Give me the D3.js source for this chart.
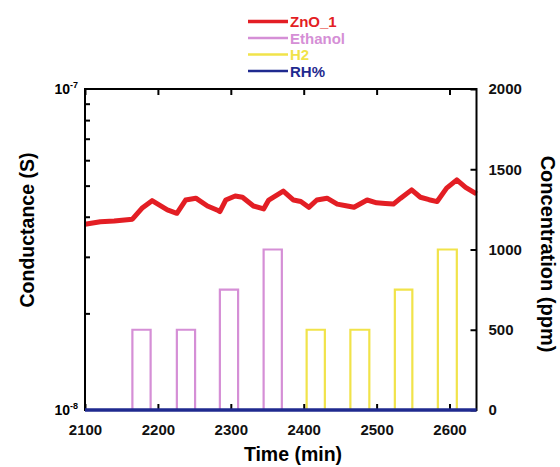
<!DOCTYPE html>
<html>
<head>
<meta charset="utf-8">
<script src="https://cdn.jsdelivr.net/npm/d3@7"></script>
<style>
    body { margin: 0; background: #fff; }
    text { font-family: "Liberation Sans", Arial, sans-serif; font-weight: bold; }
</style>
</head>
<body>
<script>
// ZnO_1 conductance trace (time in min, conductance in S)
const znoTime = [2100, 2121, 2140, 2165, 2178, 2192, 2213, 2226, 2238, 2252, 2268, 2281, 2285, 2293, 2306, 2316, 2331, 2345, 2352, 2372, 2386, 2396, 2407, 2418, 2432, 2446, 2458, 2469, 2487, 2500, 2512, 2523, 2533, 2548, 2560, 2572, 2583, 2596, 2610, 2622, 2637];
const znoValue = [3.79e-8, 3.86e-8, 3.88e-8, 3.93e-8, 4.25e-8, 4.49e-8, 4.2e-8, 4.1e-8, 4.51e-8, 4.57e-8, 4.32e-8, 4.2e-8, 4.15e-8, 4.51e-8, 4.64e-8, 4.6e-8, 4.32e-8, 4.23e-8, 4.51e-8, 4.81e-8, 4.51e-8, 4.46e-8, 4.28e-8, 4.51e-8, 4.57e-8, 4.38e-8, 4.33e-8, 4.28e-8, 4.51e-8, 4.42e-8, 4.4e-8, 4.38e-8, 4.57e-8, 4.85e-8, 4.6e-8, 4.52e-8, 4.46e-8, 4.91e-8, 5.21e-8, 4.94e-8, 4.71e-8];

// gas pulses: start time, end time, concentration (ppm)
const ethanolStart = [2165, 2226, 2285, 2345];
const ethanolEnd = [2190, 2251, 2310, 2370];
const ethanolPpm = [500, 500, 750, 1000];
const h2Start = [2404, 2464, 2525, 2584];
const h2End = [2429, 2490, 2549, 2610];
const h2Ppm = [500, 500, 750, 1000];

// relative humidity trace, flat at zero
const rhTime = [2100, 2637];
const rhValue = [0, 0];

const xTicks = [2100, 2200, 2300, 2400, 2500, 2600];
const rightTicks = [0, 500, 1000, 1500, 2000];
const legendNames = ["ZnO_1", "Ethanol", "H2", "RH%"];
const legendColors = ["#e31e24", "#d58fd6", "#f1e34a", "#1f2a8f"];

const width = 560, height = 467;
const margin = { top: 89, right: 83.5, bottom: 57, left: 85 };
const innerW = width - margin.left - margin.right;
const innerH = height - margin.top - margin.bottom;

const svg = d3.select("body").append("svg").attr("width", width).attr("height", height);

const x = d3.scaleLinear().domain([2100, 2637]).range([margin.left, margin.left + innerW]);
const yLeft = d3.scaleLog().domain([1e-8, 1e-7]).range([margin.top + innerH, margin.top]);
const yRight = d3.scaleLinear().domain([0, 2000]).range([margin.top + innerH, margin.top]);

// turn pulse lists into step series starting and ending at 0
function pulseSeries(starts, ends, vals) {
    const pts = [];
    starts.forEach((s, i) => {
        pts.push([s, 0], [s, vals[i]], [ends[i], vals[i]], [ends[i], 0]);
    });
    return pts;
}

const lineRight = d3.line().x(d => x(d[0])).y(d => yRight(d[1]));

const plot = svg.append("g");

plot.append("path")
    .datum(pulseSeries(ethanolStart, ethanolEnd, ethanolPpm))
    .attr("d", lineRight)
    .attr("fill", "none")
    .attr("stroke", legendColors[1])
    .attr("stroke-width", 2.2);

plot.append("path")
    .datum(pulseSeries(h2Start, h2End, h2Ppm))
    .attr("d", lineRight)
    .attr("fill", "none")
    .attr("stroke", legendColors[2])
    .attr("stroke-width", 2.2);

plot.append("path")
    .datum(znoTime.map((t, i) => [t, znoValue[i]]))
    .attr("d", d3.line().x(d => x(d[0])).y(d => yLeft(d[1])))
    .attr("fill", "none")
    .attr("stroke", legendColors[0])
    .attr("stroke-width", 5)
    .attr("stroke-linejoin", "round");

// axes with inward ticks
const axisBottomG = svg.append("g")
    .attr("transform", `translate(0,${margin.top + innerH})`)
    .call(d3.axisBottom(x).tickValues(xTicks).tickSize(-6).tickPadding(14).tickFormat(d3.format("d")));

const axisTopG = svg.append("g")
    .attr("transform", `translate(0,${margin.top})`)
    .call(d3.axisTop(x).tickValues(xTicks).tickSize(-6).tickFormat(""));

const minorVals = d3.range(2, 10).map(k => k * 1e-8);
const axisLeftG = svg.append("g")
    .attr("transform", `translate(${margin.left},0)`)
    .call(d3.axisLeft(yLeft).tickValues(minorVals).tickSize(-5).tickFormat(""));

const axisRightG = svg.append("g")
    .attr("transform", `translate(${margin.left + innerW},0)`)
    .call(d3.axisRight(yRight).tickValues(rightTicks).tickSize(-6).tickPadding(12).tickFormat(d3.format("d")));

[axisBottomG, axisTopG, axisLeftG, axisRightG].forEach(g => {
    g.select(".domain").remove();
    g.selectAll(".tick line").attr("stroke", "#000").attr("stroke-width", 2);
    g.selectAll(".tick text").attr("fill", "#111").style("font-size", "15px");
});

// frame
svg.append("rect")
    .attr("x", margin.left).attr("y", margin.top)
    .attr("width", innerW).attr("height", innerH)
    .attr("fill", "none").attr("stroke", "#000").attr("stroke-width", 2);

// RH line sits on the bottom frame edge
svg.append("path")
    .datum(rhTime.map((t, i) => [t, rhValue[i]]))
    .attr("d", lineRight)
    .attr("fill", "none")
    .attr("stroke", legendColors[3])
    .attr("stroke-width", 3.5);

// left decade labels
[1e-8, 1e-7].forEach(v => {
    const t = svg.append("text")
        .attr("x", 78).attr("y", yLeft(v) + 5)
        .attr("text-anchor", "end")
        .style("font-size", "14px");
    t.append("tspan").text("10");
    t.append("tspan").attr("dy", -6).style("font-size", "9px").text(v === 1e-8 ? "-8" : "-7");
});

// axis titles
svg.append("text")
    .attr("x", 293).attr("y", 461)
    .attr("text-anchor", "middle")
    .style("font-size", "19.5px")
    .text("Time (min)");

svg.append("text")
    .attr("transform", "translate(34,230) rotate(-90)")
    .attr("text-anchor", "middle")
    .style("font-size", "19.5px")
    .text("Conductance (S)");

svg.append("text")
    .attr("transform", "translate(541,254) rotate(90)")
    .attr("text-anchor", "middle")
    .style("font-size", "20px")
    .text("Concentration (ppm)");

// legend
const legend = svg.append("g");
legendNames.forEach((name, i) => {
    const yy = 21.5 + i * 16.5;
    legend.append("line")
        .attr("x1", 248).attr("x2", 288)
        .attr("y1", yy).attr("y2", yy)
        .attr("stroke", legendColors[i])
        .attr("stroke-width", i === 0 ? 3.5 : 2.5);
    legend.append("text")
        .attr("x", 290).attr("y", yy + 5.5)
        .attr("fill", legendColors[i])
        .style("font-size", "15px")
        .text(name);
});
</script>
</body>
</html>
